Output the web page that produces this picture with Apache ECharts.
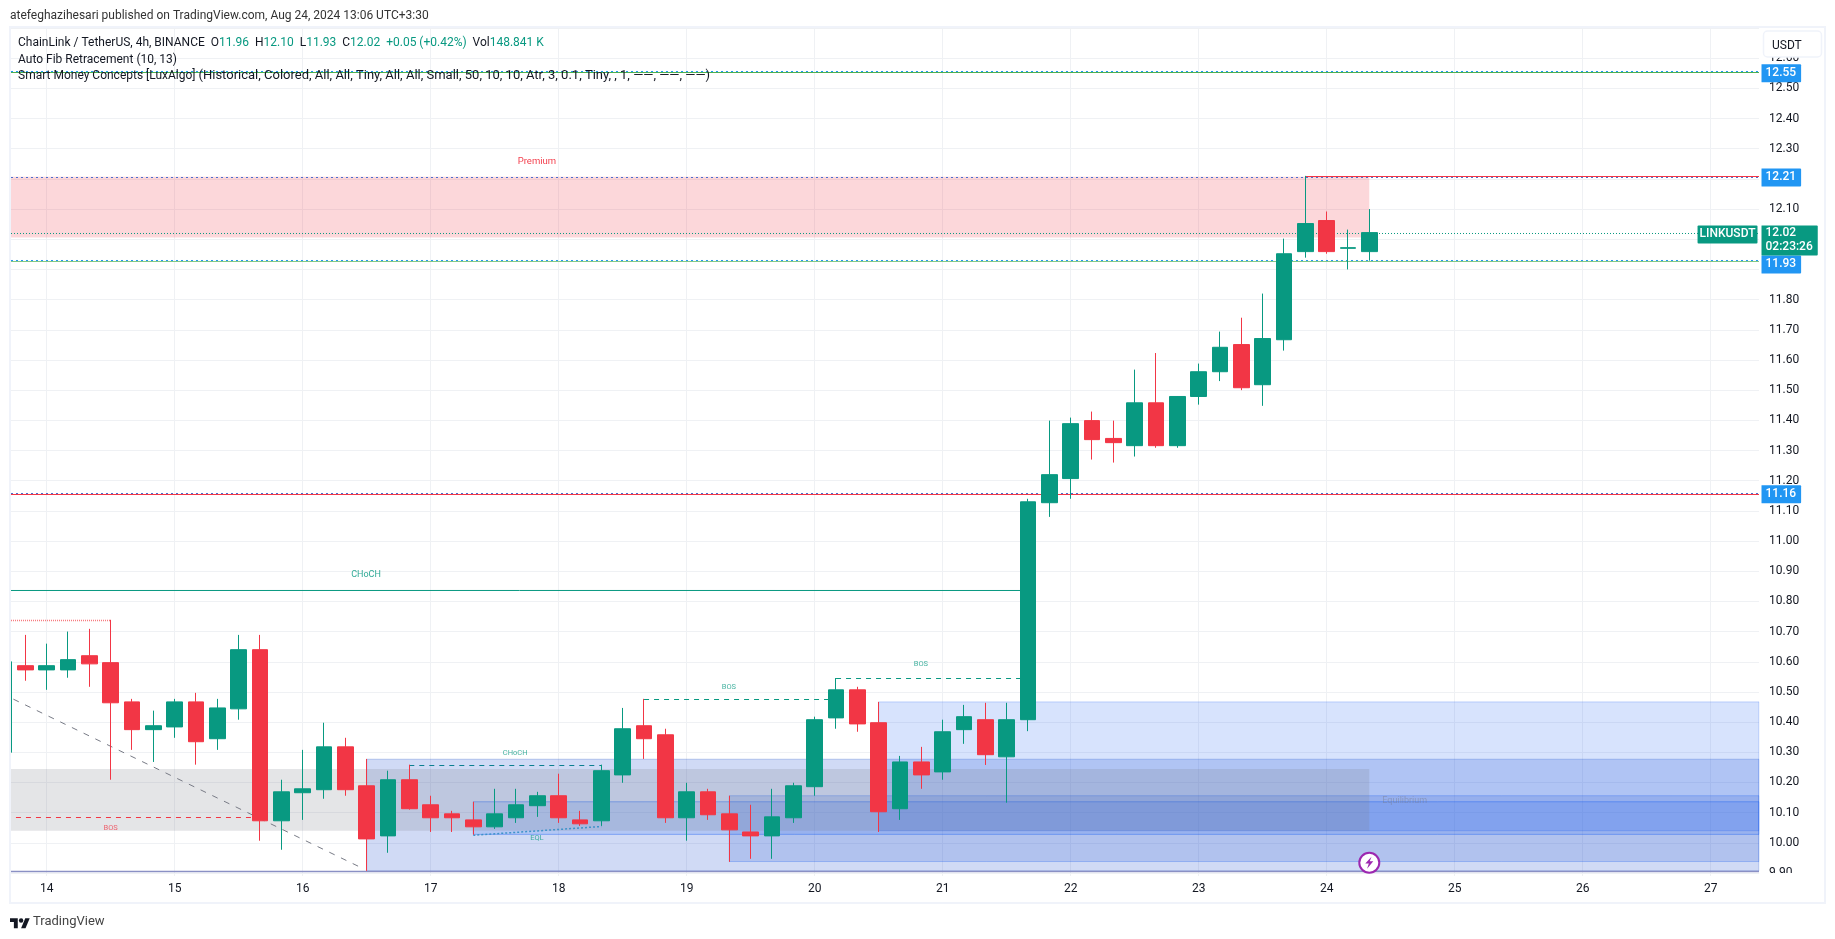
<!DOCTYPE html>
<html>
<head>
<meta charset="utf-8">
<title>LINKUSDT 4h</title>
<style>
  html, body { margin: 0; padding: 0; background: #fff; }
  #chart { width: 1835px; height: 939px; }
</style>
<script src="https://cdn.jsdelivr.net/npm/echarts@6/dist/echarts.min.js"></script>
</head>
<body>
<div id="chart"></div>
<script>
// candles, oldest first (4h bars, first one is cut by the pane edge)
const opens = [10.30, 10.587, 10.573, 10.573, 10.62, 10.597, 10.467, 10.375, 10.384, 10.467, 10.345, 10.444, 10.64, 10.073, 10.166, 10.176, 10.318, 10.189, 10.023, 10.209, 10.126, 10.096, 10.076, 10.053, 10.083, 10.123, 10.156, 10.076, 10.073, 10.225, 10.388, 10.358, 10.083, 10.169, 10.096, 10.036, 10.023, 10.083, 10.186, 10.414, 10.507, 10.398, 10.113, 10.268, 10.235, 10.375, 10.408, 10.285, 10.408, 11.127, 11.207, 11.399, 11.34, 11.316, 11.458, 11.316, 11.479, 11.561, 11.651, 11.518, 11.667, 11.959, 12.062, 11.97, 11.959];
const closes = [10.60, 10.573, 10.587, 10.607, 10.593, 10.464, 10.375, 10.388, 10.467, 10.335, 10.447, 10.64, 10.073, 10.169, 10.179, 10.318, 10.176, 10.013, 10.209, 10.113, 10.083, 10.083, 10.053, 10.096, 10.126, 10.156, 10.083, 10.063, 10.239, 10.378, 10.345, 10.083, 10.169, 10.093, 10.043, 10.023, 10.086, 10.189, 10.408, 10.507, 10.394, 10.103, 10.268, 10.225, 10.368, 10.418, 10.292, 10.408, 11.13, 11.22, 11.389, 11.336, 11.326, 11.458, 11.316, 11.479, 11.561, 11.642, 11.508, 11.671, 11.952, 12.052, 11.959, 11.972, 12.022];
const lows = [10.29, 10.537, 10.507, 10.547, 10.517, 10.209, 10.308, 10.268, 10.348, 10.259, 10.308, 10.408, 10.007, 9.977, 10.076, 10.146, 10.156, 9.907, 9.967, 10.11, 10.036, 10.036, 10.027, 10.046, 10.066, 10.086, 10.066, 10.056, 10.056, 10.199, 10.278, 10.066, 10.007, 10.076, 9.937, 9.947, 9.947, 10.066, 10.156, 10.378, 10.368, 10.036, 10.076, 10.179, 10.209, 10.328, 10.258, 10.133, 10.37, 11.08, 11.14, 11.27, 11.26, 11.28, 11.309, 11.309, 11.452, 11.53, 11.50, 11.448, 11.631, 11.939, 11.952, 11.90, 11.929];
const highs = [10.61, 10.689, 10.66, 10.70, 10.709, 10.739, 10.477, 10.438, 10.477, 10.497, 10.477, 10.689, 10.689, 10.209, 10.308, 10.398, 10.348, 10.278, 10.239, 10.259, 10.156, 10.106, 10.136, 10.179, 10.179, 10.169, 10.229, 10.106, 10.259, 10.447, 10.477, 10.378, 10.199, 10.179, 10.156, 10.126, 10.179, 10.199, 10.418, 10.546, 10.517, 10.467, 10.288, 10.318, 10.408, 10.457, 10.464, 10.464, 11.14, 11.399, 11.409, 11.429, 11.399, 11.568, 11.623, 11.48, 11.588, 11.694, 11.74, 11.82, 12.002, 12.21, 12.092, 12.032, 12.10];
const firstCandleDay = 13 + 2 / 3;
const candleDays = opens.map((_, i) => firstCandleDay + i / 6);

// x axis is in days of August 2024, y axis is price
const dayMin = 13.7213;
const dayMax = 27.3776;
const dayLabels = [14, 15, 16, 17, 18, 19, 20, 21, 22, 23, 24, 25, 26, 27];

// boxes: day from, day to, price top, price bottom
const premiumZone = [dayMin, 24.333, 12.207, 12.006];
const grayZone = [dayMin, 24.333, 10.245, 10.04];
const blueZone1 = [16.5, dayMax + 0.02, 10.277, 9.907];
const blueZone2 = [17.333, dayMax + 0.02, 10.136, 10.028];
const blueZone3 = [19.333, dayMax + 0.02, 10.156, 9.938];
const blueZone4 = [20.5, dayMax + 0.02, 10.467, 10.04];

// level lines: day from, day to, price
const fibLevels = [12.5559, 12.2046, 11.9296, 11.1575];
const solidGreenLevels = [[dayMin, dayMax, 12.5525], [dayMin, dayMax, 11.9263]];
const chochLine = [dayMin, 21.667, 10.8361];
const solidRedLevels = [[23.833, dayMax, 12.2079], [dayMin, dayMax, 11.1542]];
const lastPrice = 12.0191;
const redDotted = [dayMin, 14.5, 10.7367];
const bosRed = [13.76, 15.667, 10.0839];
const bosGreen = [[18.667, 20.167, 10.4749], [20.167, 21.667, 10.5445]];
const chochDashed = [16.833, 18.333, 10.2562];
const floorLine = [dayMin, dayMax, 9.905];
const fibDiagonal = [[13.74, 10.476], [16.48, 9.913]];
const eqlLine = [[17.333, 10.025], [18.333, 10.054]];

const greenTexts = [[16.495, 10.888, 'CHoCH']];
const tinyGreenTexts = [[17.66, 10.298, 'CHoCH'], [19.33, 10.517, 'BOS'], [20.83, 10.593, 'BOS'], [17.83, 10.017, 'EQL']];
const tinyRedTexts = [[14.5, 10.05, 'BOS']];
const redTexts = [[17.83, 12.257, 'Premium']];
const grayTexts = [[24.61, 10.139, 'Equilibrium']];
const boltAt = [24.333, 9.934];

// price tags on the right axis: the number shown, and the price it sits at
const blueTags = [[dayMax, 12.55, '12.55'], [dayMax, 12.205, '12.21'], [dayMax, 11.155, '11.16']];

const UP = '#089981';
const DOWN = '#f23645';
const BLUE = '#2196f3';
const GRID = '#eff1f4';

function lineSeries(points, color, type, width, z) {
  return {
    type: 'line',
    data: points,
    symbol: 'none',
    silent: true,
    z: z || 1,
    lineStyle: { color: color, type: type, width: width || 1 }
  };
}
const seg = s => [[s[0], s[2]], [s[1], s[2]]];
const box = (z, fill, border) => [
  { coord: [z[0], z[2]], itemStyle: { color: fill, borderColor: border, borderWidth: border ? 1 : 0 } },
  { coord: [z[1], z[3]] }
];
function textSeries(items, color, size) {
  return {
    type: 'scatter',
    data: items,
    symbolSize: 1,
    silent: true,
    z: 4,
    itemStyle: { color: 'transparent', opacity: 1 },
    label: {
      show: true,
      position: 'inside',
      formatter: p => p.data[2],
      color: color,
      fontFamily: 'Roboto',
      fontSize: size
    }
  };
}
function tagSeries(items, bg, side, extra) {
  return {
    type: 'scatter',
    data: items,
    symbolSize: 1,
    silent: true,
    z: 20,
    itemStyle: { color: 'transparent', opacity: 1 },
    label: Object.assign({
      show: true,
      position: side,
      distance: 1,
      formatter: p => p.data[2],
      color: '#fff',
      backgroundColor: bg,
      borderRadius: 1,
      padding: [2, 5, 2, 5],
      lineHeight: 14,
      fontFamily: 'Roboto',
      fontWeight: 500,
      fontSize: 12
    }, extra || {})
  };
}

const series = [
  {
    type: 'line',
    data: [],
    silent: true,
    markArea: {
      silent: true,
      data: [
        box(blueZone1, 'rgba(20,70,205,0.2)', 'rgba(20,70,205,0.25)'),
        box(blueZone4, 'rgba(33,100,243,0.18)', 'rgba(33,100,243,0.25)'),
        box(blueZone3, 'rgba(20,70,205,0.16)', 'rgba(33,100,243,0.3)'),
        box(blueZone2, 'rgba(33,100,243,0.16)', 'rgba(33,100,243,0.45)'),
        box(grayZone, 'rgba(120,123,134,0.2)'),
        box(premiumZone, 'rgba(242,54,69,0.2)')
      ]
    }
  },
  lineSeries(fibDiagonal, '#787b86', [6, 7]),
  lineSeries(seg(floorLine), '#8a90c4', 'solid', 1.5),
  ...fibLevels.map((p, i) => lineSeries(seg([dayMin, dayMax, p]), i === 1 || i === 3 ? '#4a6fd0' : BLUE, [2, 3])),
  lineSeries(seg(solidGreenLevels[0]), '#4caf50'),
  lineSeries(seg(solidGreenLevels[1]), '#81c784'),
  lineSeries(seg(solidRedLevels[0]), DOWN),
  lineSeries(seg(solidRedLevels[1]), DOWN),
  lineSeries(seg([dayMin, dayMax, lastPrice]), UP, [1, 2]),
  lineSeries(seg(chochLine), UP),
  lineSeries(seg(redDotted), '#f77c80', [1, 1], 1.5),
  lineSeries(seg(bosRed), DOWN, [5, 5]),
  lineSeries(seg(bosGreen[0]), UP, [5, 5]),
  lineSeries(seg(bosGreen[1]), UP, [5, 5]),
  lineSeries(seg(chochDashed), '#0b7f8f', [5, 5]),
  lineSeries(eqlLine, '#3f93c9', [2, 2], 1.5),
  {
    type: 'candlestick',
    z: 5,
    silent: true,
    barWidth: 16,
    data: opens.map((o, i) => [candleDays[i], o, closes[i], lows[i], highs[i]]),
    encode: { x: 0, y: [1, 2, 3, 4] },
    itemStyle: { color: UP, color0: DOWN, borderColor: UP, borderColor0: DOWN, borderWidth: 1 }
  },
  textSeries(greenTexts, 'rgba(8,153,129,0.85)', 9),
  textSeries(tinyGreenTexts, 'rgba(8,153,129,0.75)', 7.5),
  textSeries(tinyRedTexts, 'rgba(242,54,69,0.75)', 7.5),
  textSeries(redTexts, 'rgba(242,54,69,0.95)', 9.5),
  textSeries(grayTexts, 'rgba(120,123,134,0.45)', 9),
  {
    type: 'scatter',
    data: [boltAt],
    symbol: 'circle',
    symbolSize: 20,
    silent: true,
    z: 21,
    itemStyle: { color: '#fff', borderColor: '#9c27b0', borderWidth: 2, opacity: 1 }
  },
  {
    type: 'scatter',
    data: [boltAt],
    symbol: 'path://M8 0L1 9H5L3 16L10 6H6Z',
    symbolSize: [8, 12],
    silent: true,
    z: 22,
    itemStyle: { color: '#9c27b0', opacity: 1 }
  },
  tagSeries(blueTags, BLUE, 'right'),
  tagSeries([[dayMax, 11.93, '11.93']], BLUE, 'right', { offset: [0, 4] }),
  tagSeries([[dayMax, lastPrice, '12.02\n02:23:26']], UP, 'right', { offset: [0, 7], padding: [1, 5, 1, 5] }),
  tagSeries([[dayMax, lastPrice, 'LINKUSDT']], UP, 'left', { offset: [0, 1], padding: [2, 2, 2, 2] })
];

const chart = echarts.init(document.getElementById('chart'));
chart.setOption({
  animation: false,
  backgroundColor: '#fff',
  textStyle: { fontFamily: 'Roboto' },
  grid: { left: 11, right: 76, top: 28, bottom: 66 },
  xAxis: {
    type: 'value',
    min: dayMin,
    max: dayMax,
    axisLine: { show: true, lineStyle: { color: GRID, width: 1 } },
    axisTick: { show: true, customValues: dayLabels, length: 3, lineStyle: { color: GRID } },
    axisLabel: { customValues: dayLabels, margin: 10, color: '#131722', fontSize: 12, formatter: v => String(v) },
    splitLine: { show: true, lineStyle: { color: GRID, width: 1 } }
  },
  yAxis: {
    type: 'value',
    position: 'right',
    min: 9.9,
    max: 12.7,
    interval: 0.1,
    axisLine: { show: false },
    axisTick: { show: false },
    axisLabel: {
      margin: 10,
      color: '#131722',
      fontSize: 12,
      showMinLabel: true,
      showMaxLabel: false,
      formatter: v => v.toFixed(2)
    },
    splitLine: { show: true, lineStyle: { color: GRID, width: 1 } }
  },
  series: series,
  graphic: [
    { type: 'rect', z: 49, shape: { x: 0, y: 27, width: 9.5, height: 850 }, style: { fill: '#fff' } },
    { type: 'rect', z: 49, shape: { x: 1759.5, y: 28, width: 2, height: 846 }, style: { fill: '#fff' } },
    { type: 'rect', z: 50, shape: { x: 1760, y: 873, width: 62, height: 29 }, style: { fill: '#fff' } },
    { type: 'rect', z: 50, shape: { x: 10, y: 27, width: 1815, height: 876 }, style: { fill: 'none', stroke: '#f0f3fa', lineWidth: 2 } },
    { type: 'rect', z: 51, shape: { x: 1763.5, y: 31, width: 58, height: 26, r: 4 }, style: { fill: '#fff', stroke: '#f0f3fa', lineWidth: 1.5 } },
    { type: 'text', z: 52, style: { x: 1772, y: 45.5, text: 'USDT', fill: '#131722', font: '12px Roboto', verticalAlign: 'middle' } },
    { type: 'text', z: 52, style: { x: 10, y: 16, text: 'atefeghazihesari published on TradingView.com, Aug 24, 2024 13:06 UTC+3:30', fill: '#333', font: '12px Roboto', verticalAlign: 'middle' } },
    {
      type: 'text', z: 52,
      style: {
        x: 18, y: 42.5, verticalAlign: 'middle', font: '12px Roboto', fill: '#131722',
        text: 'ChainLink / TetherUS, 4h, BINANCE  O{g|11.96}  H{g|12.10}  L{g|11.93}  C{g|12.02}  {g|+0.05 (+0.42%)}  Vol{g|148.841 K}',
        rich: { g: { fill: UP, font: '12px Roboto' } }
      }
    },
    { type: 'text', z: 52, style: { x: 18, y: 60, text: 'Auto Fib Retracement (10, 13)', fill: '#131722', font: '12px Roboto', verticalAlign: 'middle' } },
    {
      type: 'text', z: 52,
      style: {
        x: 18, y: 76, verticalAlign: 'middle', font: '12px Roboto', fill: '#131722',
        text: 'Smart Money Concepts [LuxAlgo] {w|(Historical, Colored, All, All, Tiny, All, All, Small, 50, 10, 10, Atr, 3, 0.1, Tiny, , 1, \u2014\u2014, \u2014\u2014, \u2014\u2014)}',
        rich: { w: { fill: '#131722', font: '13px Roboto' } }
      }
    },
    { type: 'polygon', z: 52, x: 10, y: 916, scaleX: 0.555, scaleY: 0.555, shape: { points: [[14, 22], [7, 22], [7, 11], [0, 11], [0, 4], [14, 4]] }, style: { fill: '#131722' } },
    { type: 'polygon', z: 52, x: 10, y: 916, scaleX: 0.555, scaleY: 0.555, shape: { points: [[28, 22], [20, 22], [27.5, 4], [35.5, 4]] }, style: { fill: '#131722' } },
    { type: 'circle', z: 52, x: 10, y: 916, scaleX: 0.555, scaleY: 0.555, shape: { cx: 20, cy: 8, r: 4 }, style: { fill: '#131722' } },
    { type: 'text', z: 52, style: { x: 33, y: 922, text: 'TradingView', fill: '#444', font: '13px Roboto', verticalAlign: 'middle' } }
  ]
});
</script>
</body>
</html>
